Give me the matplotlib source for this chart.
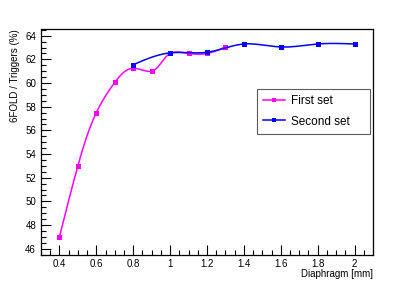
import numpy as np
import matplotlib
matplotlib.use('Agg')
import matplotlib.pyplot as plt
from matplotlib.ticker import MultipleLocator, FormatStrFormatter
from matplotlib.lines import Line2D

# Data
first_x = [0.4, 0.5, 0.6, 0.7, 0.8, 0.9, 1.0, 1.1, 1.2, 1.3]
first_y = [47.0, 53.0, 57.5, 60.05, 61.25, 61.0, 62.5, 62.5, 62.5, 63.05]
second_x = [0.8, 1.0, 1.2, 1.4, 1.6, 1.8, 2.0]
second_y = [61.55, 62.55, 62.6, 63.3, 63.05, 63.3, 63.3]


def spline_1d(t, v, ts):
    k = len(t)
    h = np.diff(t)
    A = np.zeros((k, k))
    b = np.zeros(k)
    A[0, 0] = A[-1, -1] = 1
    for i in range(1, k - 1):
        A[i, i - 1] = h[i - 1]
        A[i, i] = 2 * (h[i - 1] + h[i])
        A[i, i + 1] = h[i]
        b[i] = 6 * ((v[i + 1] - v[i]) / h[i] - (v[i] - v[i - 1]) / h[i - 1])
    m = np.linalg.solve(A, b)
    idx = np.clip(np.searchsorted(t, ts) - 1, 0, k - 2)
    t0 = ts - t[idx]
    t1 = t[idx + 1] - ts
    hi = h[idx]
    return (m[idx] * t1 ** 3 + m[idx + 1] * t0 ** 3) / (6 * hi) \
        + (v[idx] / hi - m[idx] * hi / 6) * t1 \
        + (v[idx + 1] / hi - m[idx + 1] * hi / 6) * t0


def smooth_curve(x, y, sx=184.4, sy=11.83, n=400):
    # parametric spline in screen space, roughly what ROOT's "C" option draws
    x = np.asarray(x, float)
    y = np.asarray(y, float)
    px, py = x * sx, y * sy
    t = np.concatenate([[0], np.cumsum(np.hypot(np.diff(px), np.diff(py)))])
    ts = np.linspace(0, t[-1], n)
    return spline_1d(t, px, ts) / sx, spline_1d(t, py, ts) / sy


plt.rcParams['font.family'] = ['Liberation Sans', 'DejaVu Sans']

fig = plt.figure(figsize=(4.15, 2.84), dpi=100)
ax = fig.add_axes([0.0988, 0.102, 0.80, 0.796])

magenta = '#ff00ff'
blue = '#0000ff'

xs, ys = smooth_curve(first_x, first_y)
ax.plot(xs, ys, color=magenta, lw=1.1)
ax.plot(first_x, first_y, 's', color=magenta, ms=3.6, mew=0)
xs, ys = smooth_curve(second_x, second_y)
ax.plot(xs, ys, color=blue, lw=1.1)
ax.plot(second_x, second_y, 's', color=blue, ms=3.6, mew=0)

ax.set_xlim(0.3, 2.1)
ax.set_ylim(45.47, 64.57)

ax.xaxis.set_major_locator(MultipleLocator(0.2))
ax.xaxis.set_minor_locator(MultipleLocator(0.05))
ax.yaxis.set_major_locator(MultipleLocator(2))
ax.yaxis.set_minor_locator(MultipleLocator(0.5))
ax.xaxis.set_major_formatter(FormatStrFormatter('%g'))
ax.tick_params(which='both', direction='in', top=False, right=False,
               labelsize=7, colors='black')
ax.tick_params(which='major', length=7, width=0.8)
ax.tick_params(which='minor', length=3.5, width=0.8)
ax.tick_params(axis='x', which='major', pad=2.5)
ax.tick_params(axis='y', which='major', pad=3.5)
for s in ax.spines.values():
    s.set_linewidth(0.9)

ax.set_xlabel('Diaphragm [mm]', fontsize=7, loc='right', labelpad=0)
ax.set_ylabel('6FOLD / Triggers (%)', fontsize=7, loc='top', labelpad=4)

# legend box
handles = [Line2D([], [], color=magenta, lw=1.1, marker='s', ms=3, mew=0),
           Line2D([], [], color=blue, lw=1.1, marker='s', ms=3, mew=0)]
leg = ax.legend(handles, ['First set', 'Second set'], loc='upper left',
                bbox_to_anchor=(0.652, 0.558, 0.34, 0.177), mode='expand',
                fontsize=8.5, frameon=True, fancybox=False, handlelength=1.8,
                borderaxespad=0, borderpad=0.5, labelspacing=0.75,
                handletextpad=0.5)
leg.get_frame().set_edgecolor('#333333')
leg.get_frame().set_linewidth(0.8)

fig.savefig('out.png', dpi=100)
